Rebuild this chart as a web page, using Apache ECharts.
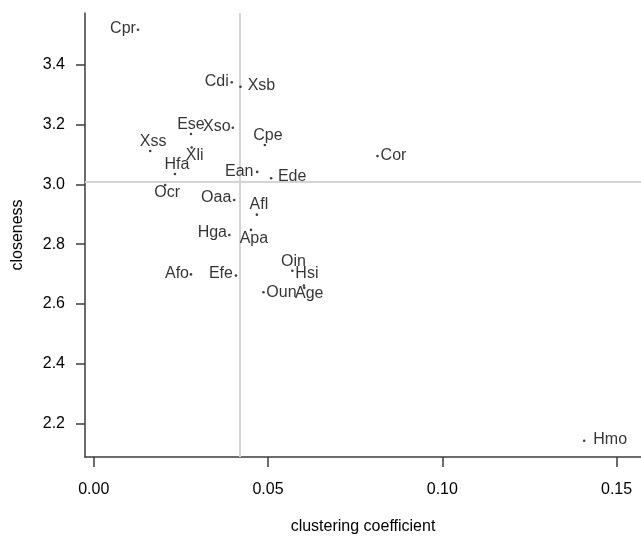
<!DOCTYPE html>
<html>
<head>
<meta charset="utf-8">
<script src="https://cdn.jsdelivr.net/npm/echarts@6/dist/echarts.min.js"></script>
<style>
html,body{margin:0;padding:0;background:#fff;}
#chart{width:641px;height:540px;}
</style>
</head>
<body>
<div id="chart"></div>
<script>
// ---- data ----
const species = ['Cpr','Cdi','Xsb','Ese','Xso','Xss','Xli','Hfa','Cpe','Ean','Ede','Cor','Ocr','Oaa','Afl','Hga','Apa','Oin','Hsi','Afo','Efe','Oun','Age','Hmo'];
const clustering = [0.0127,0.0396,0.0421,0.0279,0.0399,0.0162,0.0281,0.0233,0.0491,0.0469,0.0509,0.0814,0.0205,0.0403,0.0468,0.0389,0.0451,0.0570,0.0603,0.0279,0.0408,0.0487,0.0604,0.1407];
const closeness = [3.518,3.342,3.327,3.169,3.190,3.112,3.124,3.035,3.132,3.042,3.021,3.095,2.998,2.948,2.899,2.831,2.848,2.711,2.662,2.699,2.695,2.639,2.654,2.142];
const refX = [0.042];
const refY = [3.009];
const xTicks = [0, 0.05, 0.10, 0.15];
const yTicks = [2.2, 2.4, 2.6, 2.8, 3.0, 3.2, 3.4];

// ---- label placement (style only: pixel offsets of each label from its dot) ----
const labelOffset = {
  Cpr:[-15,-1], Cdi:[-15,-1], Xsb:[21,-1], Ese:[0,-9], Xso:[-16,-1], Xss:[3,-9],
  Xli:[3,8], Hfa:[2,-9], Cpe:[3,-9], Ean:[-18,0], Ede:[21,-2], Cor:[16,0],
  Ocr:[2,8], Oaa:[-18,-2], Afl:[2,-10], Hga:[-17,-2], Apa:[3,9], Oin:[1,-9],
  Hsi:[3,-12], Afo:[-14,-1], Efe:[-15,-2], Oun:[18,0], Age:[5,6], Hmo:[26,-1]
};

const FONT = 'Liberation Sans, Arial, Helvetica, sans-serif';
const AXIS_COLOR = '#3c3c3c';
const TEXT_COLOR = '#000';

const points = species.map((n, i) => ({
  name: n,
  value: [clustering[i], closeness[i]]
}));

const chart = echarts.init(document.getElementById('chart'), null, {renderer: 'canvas'});
chart.setOption({
  animation: false,
  backgroundColor: '#fff',
  grid: { left: 85, top: 13, right: 0, bottom: 81, containLabel: false },
  xAxis: {
    type: 'value',
    min: -0.0025, max: 0.157,
    name: 'clustering coefficient',
    nameLocation: 'middle',
    nameGap: 62,
    nameTextStyle: { fontFamily: FONT, fontSize: 16, color: TEXT_COLOR },
    axisLine: { show: true, onZero: false, lineStyle: { color: AXIS_COLOR, width: 1.5 } },
    axisTick: { show: true, customValues: xTicks, length: 10, lineStyle: { color: AXIS_COLOR, width: 1.5 } },
    axisLabel: { customValues: xTicks, margin: 25, fontFamily: FONT, fontSize: 16, color: TEXT_COLOR,
      formatter: v => v.toFixed(2) },
    splitLine: { show: false }
  },
  yAxis: {
    type: 'value',
    min: 2.0877, max: 3.574,
    name: 'closeness',
    nameLocation: 'middle',
    nameGap: 59,
    nameTextStyle: { fontFamily: FONT, fontSize: 16, color: TEXT_COLOR },
    axisLine: { show: true, onZero: false, lineStyle: { color: AXIS_COLOR, width: 1.5 } },
    axisTick: { show: true, customValues: yTicks, length: 9, lineStyle: { color: AXIS_COLOR, width: 1.5 } },
    axisLabel: { customValues: yTicks, margin: 20, fontFamily: FONT, fontSize: 16, color: TEXT_COLOR,
      formatter: v => v.toFixed(1) },
    splitLine: { show: false }
  },
  series: [{
    type: 'scatter',
    data: points,
    symbol: 'circle',
    symbolSize: 2.6,
    itemStyle: { color: '#111' },
    z: 3,
    label: {
      show: true,
      position: 'inside',
      formatter: p => p.name,
      fontFamily: FONT,
      fontSize: 16,
      color: TEXT_COLOR,
      align: 'center',
      verticalAlign: 'middle'
    },
    labelLayout: function (params) {
      const o = labelOffset[species[params.dataIndex]] || [0, 0];
      return { dx: o[0], dy: o[1], hideOverlap: false, moveOverlap: false };
    },
    emphasis: { disabled: true },
    markLine: {
      silent: true,
      precision: 6,
      symbol: ['none','none'],
      label: { show: false },
      lineStyle: { color: '#d4d4d4', width: 2, type: 'solid' },
      z: 1,
      data: [
        ...refX.map(v => ({ xAxis: v })),
        ...refY.map(v => ({ yAxis: v }))
      ]
    }
  }]
});
</script>
</body>
</html>
